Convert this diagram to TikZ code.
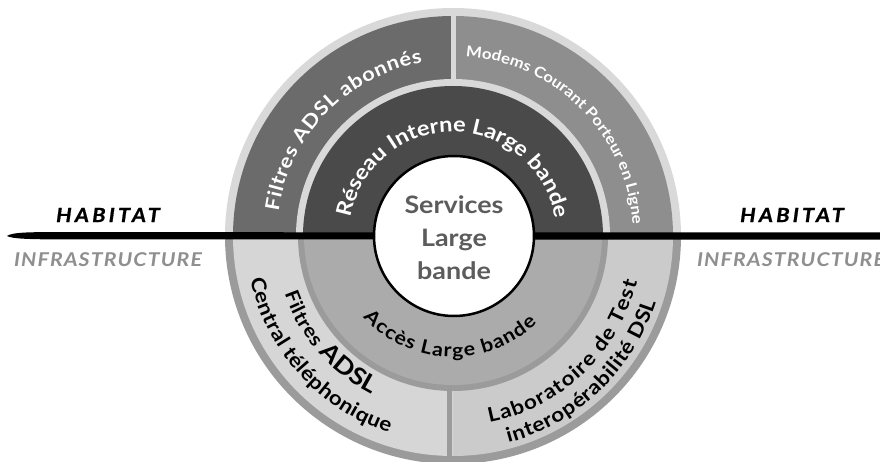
\documentclass[tikz,border=0pt]{standalone}
\usepackage{fontspec}
\setmainfont{Lato}
\newfontfamily\gill{Lato}[FakeStretch=1.12]
\usetikzlibrary{decorations.text}

\definecolor{abonnes}{HTML}{6B6B6B}
\definecolor{modems}{HTML}{8E8E8E}
\definecolor{reseau}{HTML}{4A4A4A}
\definecolor{acces}{HTML}{ABABAB}
\definecolor{central}{HTML}{D6D6D6}
\definecolor{labo}{HTML}{CBCBCB}
\definecolor{bordclair}{HTML}{D9D9D9}
\definecolor{bordfonce}{HTML}{9B9B9B}
\definecolor{gristexte}{HTML}{5C5C5C}
\definecolor{grisinfra}{HTML}{8F8F8F}

\begin{document}
\begin{tikzpicture}[x=1pt,y=1pt,
	surarc/.style 2 args={decorate, decoration={text along path, text align=fit to path, text color=#1, text={#2}}},
	cote/.style={font=\gill\bfseries\itshape\fontsize{19}{19}\selectfont\addfontfeatures{LetterSpace=6}},
	habitat/.style={font=\gill\bfseries\itshape\fontsize{19.5}{19.5}\selectfont\addfontfeatures{LetterSpace=16,FakeBold=0.8}}]

		\fill[white] (-453,-226) rectangle (427,236);
		\useasboundingbox (-453,-226) rectangle (427,236);

		\fill[bordclair] (0,0) -- (0:228pt) arc[start angle=0, end angle=180, radius=228pt] -- cycle; %Bord haut
		\fill[bordfonce] (0,0) -- (180:228pt) arc[start angle=180, end angle=360, radius=228pt] -- cycle; %Bord bas

		\fill[abonnes] (0,0) -- (180:220pt) arc[start angle=180, end angle=90, radius=220pt] -- cycle;
		\fill[modems] (0,0) -- (90:220pt) arc[start angle=90, end angle=0, radius=220pt] -- cycle;
		\fill[central] (0,0) -- (180:220pt) arc[start angle=180, end angle=270, radius=220pt] -- cycle;
		\fill[labo] (0,0) -- (270:220pt) arc[start angle=270, end angle=360, radius=220pt] -- cycle;

		\draw[bordclair, line width=5pt] (0,150) -- (0,226); %Separation haut
		\draw[bordfonce, line width=5pt] (-4,-150) -- (-4,-226); %Separation bas

		\fill[bordclair] (0,0) -- (0:157pt) arc[start angle=0, end angle=180, radius=157pt] -- cycle;
		\fill[bordfonce] (0,0) -- (180:155pt) arc[start angle=180, end angle=360, radius=155pt] -- cycle;
		\fill[reseau] (0,0) -- (0:150pt) arc[start angle=0, end angle=180, radius=150pt] -- cycle;
		\fill[acces] (0,0) -- (180:149pt) arc[start angle=180, end angle=360, radius=149pt] -- cycle;

		\fill (-446,0) .. controls (-441,4) and (-420,4) .. (-390,3.8) -- (430,3.6) -- (430,-3.6) -- (-390,-3.4) .. controls (-420,-3.4) and (-441,-3) .. (-446,0) -- cycle; %Trait

		\draw[line width=2.5pt, fill=white] (1,0) circle[radius=80pt];
		\node[text=gristexte, font=\gill\bfseries\fontsize{24}{33}\selectfont, align=center] (services) at (1,-2) {Services\\Large\\bande};

		\path[surarc={white}{|\gill\bfseries\fontsize{19.5}{19.5}\selectfont|Filtres ADSL abonnés}] (172:176pt) arc[start angle=172, end angle=100, radius=176pt];
		\path[surarc={white}{|\gill\bfseries\fontsize{15}{15}\selectfont|Modems Courant Porteur en Ligne}] (86:180pt) arc[start angle=86, end angle=5, radius=180pt];
		\path[surarc={white}{|\gill\bfseries\fontsize{21}{21}\selectfont|Réseau Interne Large bande}] (170:104pt) arc[start angle=170, end angle=11, radius=104pt];
		\path[surarc={black}{|\gill\bfseries\fontsize{19}{19}\selectfont|Accès Large bande}] (222:121pt) arc[start angle=222, end angle=314, radius=121pt];
		\path[surarc={black}{|\gill\bfseries\fontsize{19}{19}\selectfont|Filtres |\gill\bfseries\fontsize{24}{24}\selectfont|ADSL}] (199:178pt) arc[start angle=199, end angle=243, radius=178pt];
		\path[surarc={black}{|\gill\bfseries\fontsize{20}{20}\selectfont|Central téléphonique}] (192:207pt) arc[start angle=192, end angle=252, radius=207pt];
		\path[surarc={black}{|\gill\bfseries\fontsize{20}{20}\selectfont|Laboratoire de Test}] (281:190pt) arc[start angle=281, end angle=346, radius=190pt];
		\path[surarc={black}{|\gill\bfseries\fontsize{20}{20}\selectfont|interopérabilité DSL}] (285:214pt) arc[start angle=285, end angle=342, radius=214pt];

		\node[habitat] (habitatg) at (-345,21) {HABITAT};
		\node[cote, text=grisinfra] (infrag) at (-345,-24) {INFRASTRUCTURE};
		\node[habitat] (habitatd) at (339,21) {HABITAT};
		\node[cote, text=grisinfra] (infrad) at (338,-24) {INFRASTRUCTURE};

	\end{tikzpicture}
\end{document}
